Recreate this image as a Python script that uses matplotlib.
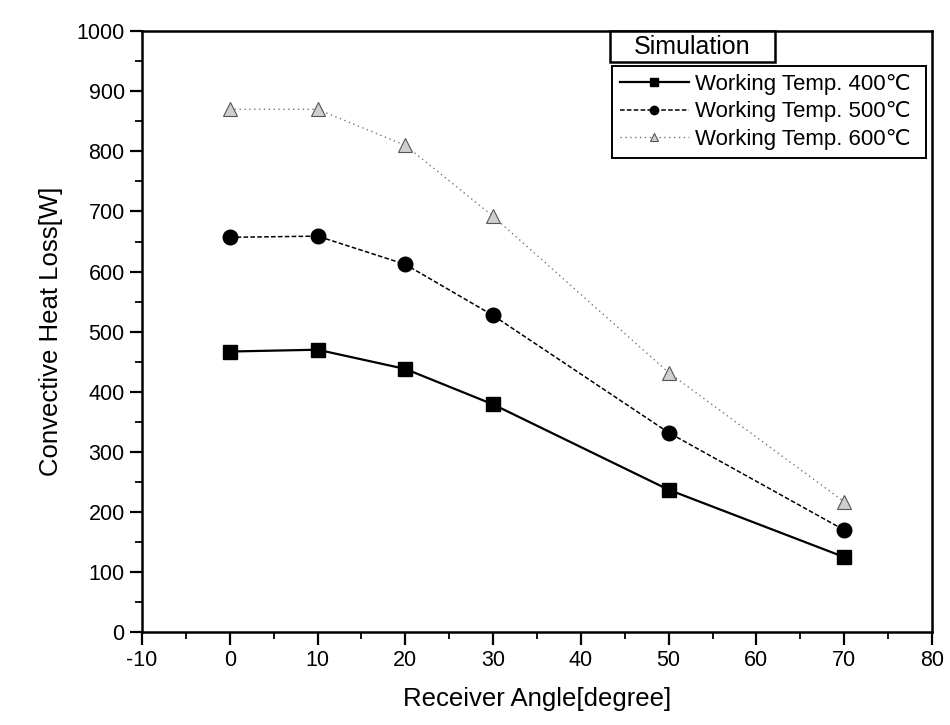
import matplotlib
matplotlib.use("Agg")
import matplotlib.pyplot as plt
from matplotlib.patches import Rectangle
from matplotlib.ticker import MultipleLocator

plt.rcParams['font.family'] = ['Liberation Sans', 'DejaVu Sans']

# receiver angle [degree]
angles = [0, 10, 20, 30, 50, 70]
# convective heat loss [W]
loss_400 = [467, 470, 438, 379, 237, 125]
loss_500 = [657, 659, 612, 527, 332, 170]
loss_600 = [870, 870, 810, 692, 432, 217]
labels = ["Working Temp. 400\u2103", "Working Temp. 500\u2103", "Working Temp. 600\u2103"]

fig = plt.figure(figsize=(9.5, 7.25), dpi=100)
ax = fig.add_axes([0.1495, 0.128, 0.8315, 0.829])

ax.plot(angles, loss_400, color="black", lw=1.6, ls="-", marker="s", ms=10.5,
        mfc="black", mec="black", label=labels[0])
ax.plot(angles, loss_500, color="black", lw=1.1, ls=(0, (3, 1.5)), marker="o", ms=10.5,
        mfc="black", mec="black", label=labels[1])
ax.plot(angles, loss_600, color="#777777", lw=1.0, ls=(0, (1, 2.5)), marker="^", ms=10,
        mfc="#cfcfcf", mec="#555555", mew=0.8, label=labels[2])

ax.set_xlim(-10, 80)
ax.set_ylim(0, 1000)
ax.xaxis.set_major_locator(MultipleLocator(10))
ax.xaxis.set_minor_locator(MultipleLocator(5))
ax.yaxis.set_major_locator(MultipleLocator(100))
ax.yaxis.set_minor_locator(MultipleLocator(50))
ax.set_xticks(range(-10, 81, 10), [str(v) for v in range(-10, 81, 10)])
ax.tick_params(which="major", direction="out", length=9, width=1.6, labelsize=15.5)
ax.tick_params(which="minor", direction="out", length=5, width=1.3)
for s in ax.spines.values():
    s.set_linewidth(1.8)

ax.set_xlabel("Receiver Angle[degree]", fontsize=18.5, labelpad=12)
ax.set_ylabel("Convective Heat Loss[W]", fontsize=18.5, labelpad=10)

leg = ax.legend(loc="upper left", bbox_to_anchor=(0.595, 0.789, 0.397, 0.153), mode="expand",
                borderaxespad=0, fontsize=16, frameon=True, fancybox=False,
                edgecolor="black", framealpha=1, handlelength=3.1, handletextpad=0.3,
                borderpad=0.35, labelspacing=0.3)
leg.get_frame().set_linewidth(1.4)
for h in leg.legend_handles:
    h.set_markersize(6)

ax.add_patch(Rectangle((0.592, 0.948), 0.209, 0.052, transform=ax.transAxes,
                       fc="white", ec="black", lw=1.8, zorder=6, clip_on=False))
ax.text(0.6965, 0.974, "Simulation", transform=ax.transAxes, fontsize=18,
        ha="center", va="center", zorder=7)

fig.savefig("out.png", dpi=100)
